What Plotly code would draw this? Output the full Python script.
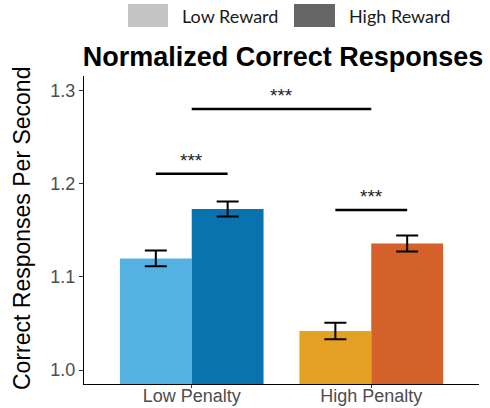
import plotly.graph_objects as go

# Data
penalty = ["Low Penalty", "High Penalty"]
low_reward_mean = [1.120, 1.042]
low_reward_se = [0.0085, 0.0088]
high_reward_mean = [1.173, 1.136]
high_reward_se = [0.008, 0.0085]

low_reward_colors = ["#56B1E3", "#E5A124"]
high_reward_colors = ["#0B72B0", "#D4612A"]

# Significance brackets: (x start, x end) in category units, height, label
bracket_x0 = [0.0, -0.2, 0.8]
bracket_x1 = [1.0, 0.2, 1.2]
bracket_y = [1.2806, 1.211, 1.172]
bracket_label = ["***", "***", "***"]

yticks = [1.0, 1.1, 1.2, 1.3]

W, H = 490, 408
ML, MR, MT, MB = 84, 11, 76, 24
PW, PH = W - ML - MR, H - MT - MB


def px_x(p):
    return (p - ML) / PW


def px_y(p):
    return (H - MB - p) / PH


fig = go.Figure()
fig.add_trace(go.Bar(
    x=penalty, y=low_reward_mean, name="Low Reward",
    marker=dict(color=low_reward_colors, line=dict(width=0)),
    error_y=dict(type="data", array=low_reward_se, color="black",
                 thickness=2, width=11),
))
fig.add_trace(go.Bar(
    x=penalty, y=high_reward_mean, name="High Reward",
    marker=dict(color=high_reward_colors, line=dict(width=0)),
    error_y=dict(type="data", array=high_reward_se, color="black",
                 thickness=2, width=11),
))

shapes = []
annotations = []
for x0, x1, y, lab in zip(bracket_x0, bracket_x1, bracket_y, bracket_label):
    shapes.append(dict(type="line", xref="x", yref="y", x0=x0, x1=x1,
                       y0=y, y1=y, line=dict(color="black", width=2.5)))
    annotations.append(dict(x=(x0 + x1) / 2, y=y, xref="x", yref="y",
                            text=lab, showarrow=False, yanchor="bottom",
                            yshift=1,
                            font=dict(family="Liberation Sans", size=19,
                                      color="#222222")))

# Legend drawn as swatches at the top
legend_items = [("Low Reward", "#C4C4C4", 128, 168, 180),
                ("High Reward", "#666666", 294, 335, 347)]
for lab, col, sx0, sx1, tx in legend_items:
    shapes.append(dict(type="rect", xref="paper", yref="paper",
                       x0=px_x(sx0), x1=px_x(sx1), y0=px_y(27), y1=px_y(4),
                       fillcolor=col, line=dict(width=0)))
    annotations.append(dict(x=px_x(tx), y=px_y(16), xref="paper",
                            yref="paper", text=lab, showarrow=False,
                            xanchor="left", yanchor="middle",
                            font=dict(family="Lato", size=18,
                                      color="#1a1a1a")))

# Y-axis title placed by hand
annotations.append(dict(x=px_x(22), y=px_y(229), xref="paper", yref="paper",
                        text="Correct Responses Per Second", showarrow=False,
                        textangle=-90, xanchor="center", yanchor="middle",
                        font=dict(family="Liberation Sans", size=23,
                                  color="black")))

fig.update_layout(
    width=W, height=H,
    margin=dict(l=ML, r=MR, t=MT, b=MB, pad=0),
    paper_bgcolor="white", plot_bgcolor="white",
    barmode="group", bargap=0.2, bargroupgap=0,
    showlegend=False,
    title=dict(text="<b>Normalized Correct Responses</b>",
               xref="container", x=283 / W, xanchor="center",
               yref="container", y=1 - 57 / H, yanchor="middle",
               font=dict(family="Liberation Sans", size=27, color="black")),
    shapes=shapes, annotations=annotations,
    font=dict(family="Liberation Sans"),
)
fig.update_xaxes(
    range=[-0.6, 1.6], showline=True, linecolor="black", linewidth=1.2,
    ticks="outside", ticklen=3, tickcolor="#333333", showgrid=False,
    automargin=False, ticklabelstandoff=-8,
    tickfont=dict(family="Liberation Sans", size=18, color="#4D4D4D"),
)
fig.update_yaxes(
    range=[0.985, 1.316], tickvals=yticks,
    ticktext=[f"{v:.1f}" for v in yticks],
    showline=True, linecolor="black", linewidth=1.2,
    ticks="outside", ticklen=4, tickcolor="#333333", showgrid=False,
    zeroline=False, automargin=False,
    tickfont=dict(family="Liberation Sans", size=18, color="#4D4D4D"),
)

fig.write_html("out.html")
